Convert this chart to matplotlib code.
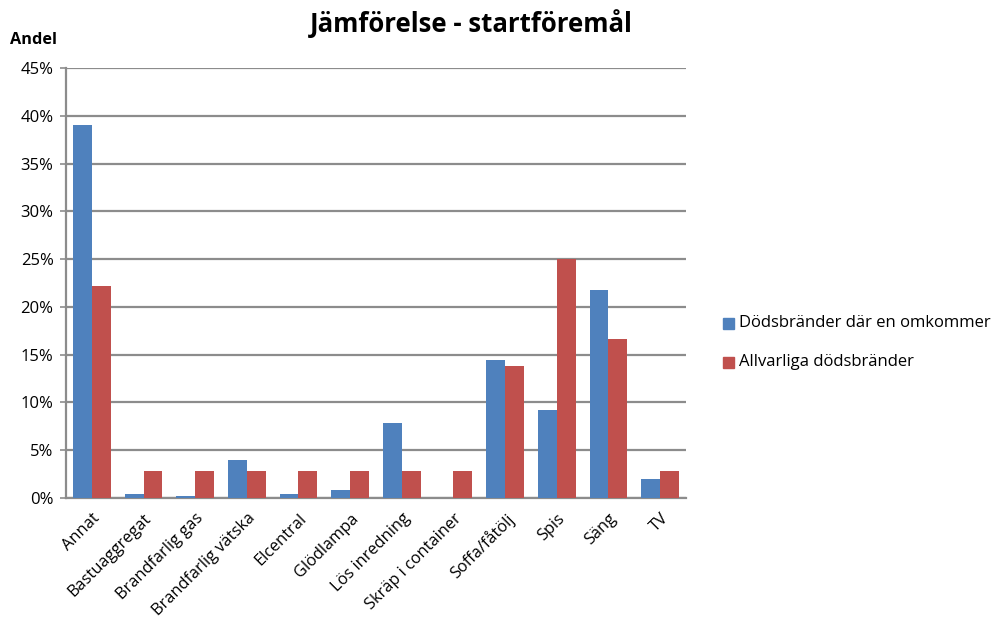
import numpy as np
import matplotlib.pyplot as plt
from matplotlib.patches import Rectangle
from matplotlib.ticker import FuncFormatter, MultipleLocator

plt.rcParams['font.family'] = ['Open Sans', 'DejaVu Sans']

kategorier = ['Annat', 'Bastuaggregat', 'Brandfarlig gas', 'Brandfarlig vätska',
              'Elcentral', 'Glödlampa', 'Lös inredning', 'Skräp i container',
              'Soffa/fåtölj', 'Spis', 'Säng', 'TV']
en_omkommer = [39.0, 0.4, 0.2, 4.0, 0.4, 0.8, 7.8, 0.0, 14.4, 9.2, 21.8, 2.0]
allvarliga = [22.2, 2.8, 2.8, 2.8, 2.8, 2.8, 2.8, 2.8, 13.8, 25.0, 16.6, 2.8]
serier = ['Dödsbränder där en omkommer', 'Allvarliga dödsbränder']
farger = ['#4F81BD', '#C0504D']

fig = plt.figure(figsize=(9.95, 6.2), dpi=100)
ax = fig.add_axes([66 / 995, 122 / 620, 620 / 995, 430 / 620])

x = np.arange(len(kategorier))
bredd = 0.367
ax.bar(x - bredd / 2, en_omkommer, bredd, color=farger[0], zorder=3)
ax.bar(x + bredd / 2, allvarliga, bredd, color=farger[1], zorder=3)

ax.set_xlim(-0.5, len(kategorier) - 0.5)
ax.set_ylim(0, 45)
ax.yaxis.set_major_locator(MultipleLocator(5))
ax.yaxis.set_major_formatter(FuncFormatter(lambda v, p: f'{v:.0f}%'))
ax.grid(axis='y', color='#8c8c8c', linewidth=1.6, zorder=0)

for s in ['top', 'right']:
    ax.spines[s].set_visible(False)
for s in ['left', 'bottom']:
    ax.spines[s].set_color('#8c8c8c')
    ax.spines[s].set_linewidth(1.6)

ax.set_xticks(x)
ax.set_xticklabels(kategorier, rotation=45, ha='right', rotation_mode='anchor',
                   fontsize=11.8)
ax.tick_params(axis='x', length=0, pad=9)
ax.tick_params(axis='y', length=4, width=1.2, color='#8c8c8c', labelsize=12, pad=5)

fig.text(0.474, 0.962, 'Jämförelse - startföremål', ha='center', va='center',
         fontsize=18.5, fontweight='bold')
fig.text(0.010, 0.936, 'Andel', ha='left', va='center', fontsize=11.7,
         fontweight='bold')

# förklaring till höger om diagrammet
for i, (namn, farg) in enumerate(zip(serier, farger)):
    yy = 1 - (323 + 39 * i) / 620
    fig.patches.append(Rectangle((723 / 995, yy - 5.5 / 620), 11 / 995, 11 / 620,
                                 transform=fig.transFigure, color=farg))
    fig.text(739 / 995, yy, namn, ha='left', va='center', fontsize=12)

fig.savefig('out.png', dpi=100)
